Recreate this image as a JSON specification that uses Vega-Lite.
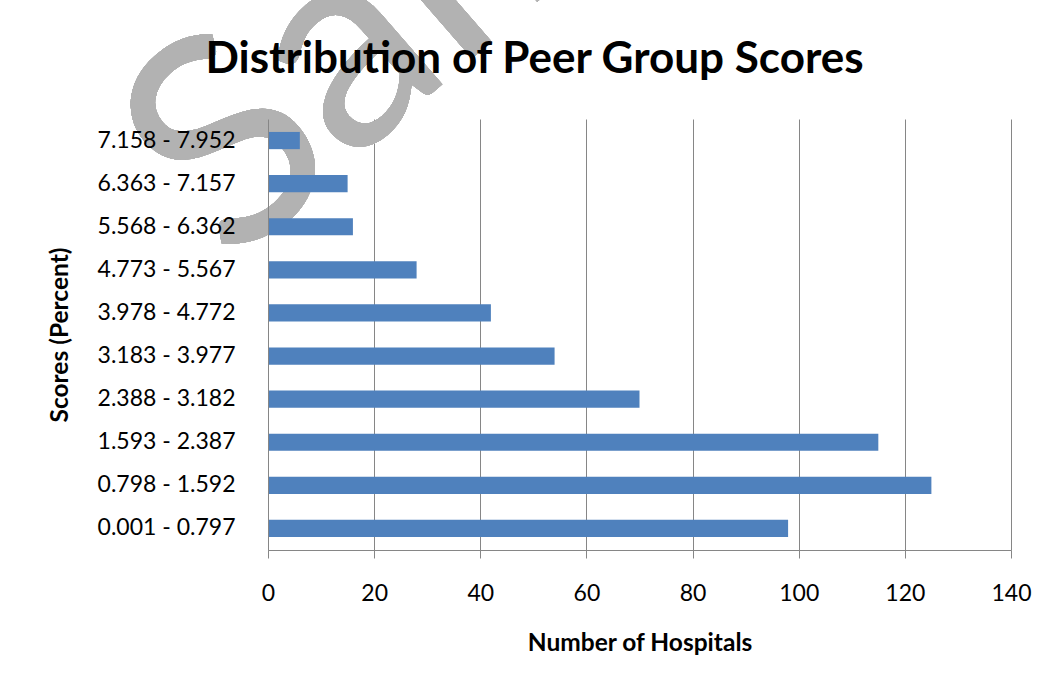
{
  "$schema": "https://vega.github.io/schema/vega-lite/v6.json",
  "autosize": {"type": "none"},
  "width": 743,
  "height": 431,
  "padding": {"left": 268, "top": 119, "right": 39, "bottom": 138},
  "background": "white",
  "data": {
    "values": [
      {"range": "0.001 - 0.797", "count": 98},
      {"range": "0.798 - 1.592", "count": 125},
      {"range": "1.593 - 2.387", "count": 115},
      {"range": "2.388 - 3.182", "count": 70},
      {"range": "3.183 - 3.977", "count": 54},
      {"range": "3.978 - 4.772", "count": 42},
      {"range": "4.773 - 5.567", "count": 28},
      {"range": "5.568 - 6.362", "count": 16},
      {"range": "6.363 - 7.157", "count": 15},
      {"range": "7.158 - 7.952", "count": 6}
    ]
  },
  "resolve": {"axis": {"x": "independent"}},
  "layer": [
    {
      "mark": {
        "type": "text",
        "text": "Sample",
        "font": "Lato",
        "fontWeight": "normal",
        "fontSize": 290,
        "angle": -41,
        "align": "left",
        "baseline": "alphabetic",
        "color": "#b2b2b2",
        "dy": -2
      },
      "encoding": {
        "x": {
          "datum": -6.8,
          "type": "quantitative",
          "scale": {"domain": [0, 140], "nice": false},
          "axis": {
            "orient": "top",
            "zindex": 2,
            "title": "Distribution of Peer Group Scores",
            "titleFont": "Lato",
            "titleFontSize": 44,
            "titleFontWeight": "bold",
            "titleColor": "black",
            "titleX": 266,
            "titleY": -47,
            "titleAlign": "center",
            "titleBaseline": "alphabetic",
            "labels": false,
            "ticks": false,
            "domain": false,
            "grid": false
          }
        },
        "y": {"datum": "4.773 - 5.567"}
      }
    },
    {
      "mark": {"type": "bar", "color": "#4F81BD"},
      "encoding": {
        "x": {
          "field": "count",
          "type": "quantitative",
          "scale": {"domain": [0, 140], "nice": false},
          "axis": {
            "orient": "bottom",
            "values": [0, 20, 40, 60, 80, 100, 120, 140],
            "labelFlush": false,
            "title": "Number of Hospitals",
            "titleFont": "Lato",
            "titleFontSize": 24.5,
            "titleFontWeight": "bold",
            "titleColor": "black",
            "titlePadding": 26,
            "labelFont": "Lato",
            "labelFontSize": 23,
            "labelColor": "black",
            "labelPadding": 24,
            "tickSize": 8,
            "tickColor": "#868686",
            "domainColor": "#868686",
            "gridColor": "#868686",
            "grid": true
          }
        },
        "y": {
          "field": "range",
          "type": "nominal",
          "sort": ["7.158 - 7.952", "6.363 - 7.157", "5.568 - 6.362", "4.773 - 5.567", "3.978 - 4.772", "3.183 - 3.977", "2.388 - 3.182", "1.593 - 2.387", "0.798 - 1.592", "0.001 - 0.797"],
          "scale": {"paddingInner": 0.6, "paddingOuter": 0.3},
          "axis": {
            "zindex": 2,
            "title": "Scores (Percent)",
            "titleFont": "Lato",
            "titleFontSize": 24.5,
            "titleFontWeight": "bold",
            "titleColor": "black",
            "titlePadding": 25,
            "labelFont": "Lato",
            "labelFontSize": 23,
            "labelColor": "black",
            "labelPadding": 33,
            "ticks": false,
            "domainColor": "#868686",
            "grid": false
          }
        }
      }
    }
  ],
  "config": {
    "view": {"stroke": null}
  }
}
